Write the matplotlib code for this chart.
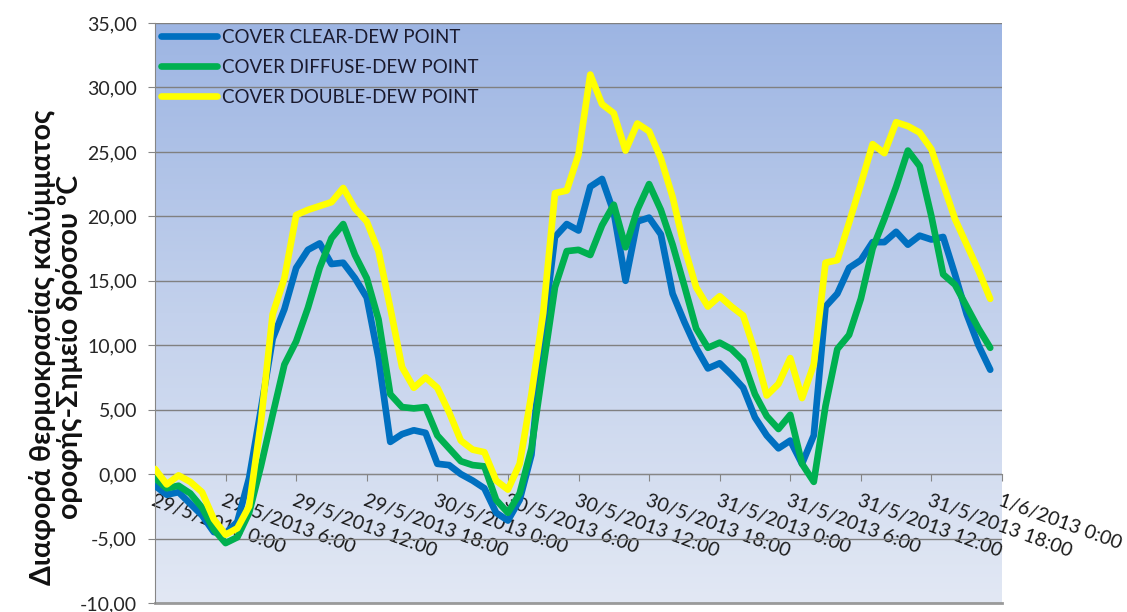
import numpy as np
import matplotlib
matplotlib.use("Agg")
import matplotlib.pyplot as plt
from matplotlib.colors import LinearSegmentedColormap
from matplotlib.ticker import FuncFormatter

plt.rcParams['font.family'] = ['Lato', 'DejaVu Sans']

# hourly readings, 29/5/2013 0:00 .. 31/5/2013 23:00
hours = list(range(72))

clear = [-0.9, -1.6, -1.4, -2.3, -3.2, -4.5, -4.6, -3.7, -0.3, 5.0,
         10.5, 12.8, 16.0, 17.4, 17.9, 16.3, 16.4, 15.2, 13.7, 9.0,
         2.5, 3.1, 3.4, 3.2, 0.8, 0.7, 0.0, -0.5, -1.1, -3.0,
         -3.6, -2.0, 1.5, 11.0, 18.4, 19.4, 18.9, 22.3, 22.9, 20.3,
         15.0, 19.6, 19.9, 18.6, 14.0, 11.8, 9.8, 8.2, 8.6, 7.7,
         6.7, 4.4, 3.0, 2.0, 2.6, 0.8, 3.0, 13.0, 14.0, 16.0,
         16.6, 18.0, 18.0, 18.8, 17.8, 18.5, 18.2, 18.4, 15.5, 12.4,
         10.0, 8.1]

diffuse = [-0.3, -1.1, -0.9, -1.5, -2.6, -4.3, -5.35, -4.9, -3.0, 0.6,
           4.6, 8.5, 10.3, 12.9, 16.0, 18.3, 19.4, 17.0, 15.2, 12.0,
           6.2, 5.2, 5.1, 5.2, 3.0, 2.0, 1.0, 0.7, 0.6, -2.0,
           -3.0, -1.5, 2.0, 8.3, 14.5, 17.3, 17.4, 17.0, 19.3, 20.9,
           17.6, 20.5, 22.5, 20.5, 17.8, 14.6, 11.3, 9.8, 10.2, 9.7,
           8.8, 6.2, 4.5, 3.5, 4.6, 0.8, -0.6, 5.3, 9.7, 10.8,
           13.6, 17.5, 19.8, 22.3, 25.1, 23.9, 20.0, 15.5, 14.7, 13.0,
           11.3, 9.8]

double = [0.4, -0.8, -0.1, -0.6, -1.4, -3.5, -4.7, -4.2, -2.5, 4.0,
          12.4, 15.2, 20.1, 20.5, 20.8, 21.1, 22.2, 20.6, 19.6, 17.3,
          12.9, 8.3, 6.7, 7.5, 6.7, 4.8, 2.6, 1.9, 1.7, -0.5,
          -1.2, 0.8, 6.2, 12.5, 21.8, 22.0, 24.8, 31.0, 28.7, 28.0,
          25.1, 27.2, 26.6, 24.5, 21.5, 17.6, 14.5, 13.0, 13.8, 13.0,
          12.3, 9.5, 6.1, 7.0, 9.0, 5.9, 8.5, 16.4, 16.6, 19.5,
          22.5, 25.6, 24.9, 27.3, 27.0, 26.5, 25.2, 22.5, 19.8, 17.8,
          15.8, 13.6]

series_names = ['COVER CLEAR-DEW POINT', 'COVER DIFFUSE-DEW POINT', 'COVER DOUBLE-DEW POINT']
series_colors = ['#0070C0', '#00B050', '#FFFF00']

tick_hours = [0, 6, 12, 18, 24, 30, 36, 42, 48, 54, 60, 66, 72]
tick_labels = ['29/5/2013 0:00', '29/5/2013 6:00', '29/5/2013 12:00', '29/5/2013 18:00',
               '30/5/2013 0:00', '30/5/2013 6:00', '30/5/2013 12:00', '30/5/2013 18:00',
               '31/5/2013 0:00', '31/5/2013 6:00', '31/5/2013 12:00', '31/5/2013 18:00',
               '1/6/2013 0:00']

y_ticks = [-10, -5, 0, 5, 10, 15, 20, 25, 30, 35]

W, H = 1127, 612
fig = plt.figure(figsize=(W / 100, H / 100), dpi=100)
ax = fig.add_axes([155 / W, 1 - 603 / H, (1002 - 155) / W, (603 - 23) / H])

# gradient background
cmap = LinearSegmentedColormap.from_list('bg', ['#E2E8F4', '#C3D1EC', '#9DB5E3'])
grad = np.linspace(0, 1, 256).reshape(-1, 1)
ax.imshow(grad, extent=[0, 1, 0, 1], transform=ax.transAxes, cmap=cmap,
          aspect='auto', origin='lower', zorder=0)
ax.patch.set_visible(False)

for vals, name, col in zip([clear, diffuse, double], series_names, series_colors):
    ax.plot(hours, vals, color=col, lw=4.8, label=name, solid_joinstyle='round',
            solid_capstyle='round', zorder=3)

ax.set_xlim(0, 72)
ax.set_ylim(-10, 35)
ax.set_yticks(y_ticks)
ax.yaxis.set_major_formatter(FuncFormatter(lambda v, p: f"{v:.2f}".replace('.', ',')))
ax.yaxis.grid(True, color='#808080', lw=1.0, zorder=1)
ax.set_axisbelow(True)

for s in ['top', 'right']:
    ax.spines[s].set_visible(False)
ax.spines['left'].set_color('#868686')
ax.spines['bottom'].set_position(('data', 0))
ax.spines['bottom'].set_color('#868686')

ax.tick_params(axis='y', direction='out', length=5, color='#868686', pad=8,
               labelsize=14, labelcolor='#262626')
ax.tick_params(axis='x', direction='out', length=5, color='#868686', pad=8,
               labelsize=14, labelcolor='#1a1a1a', labelrotation=-20)

ax.set_xticks(tick_hours)
ax.set_xticklabels(tick_labels)
for lbl in ax.get_xticklabels():
    lbl.set_rotation(-20)
    lbl.set_horizontalalignment('left')
    lbl.set_verticalalignment('top')
    lbl.set_rotation_mode('anchor')

# bottom boundary line
ax.axhline(-10, color='#9a9a9a', lw=2, zorder=1, clip_on=False)

leg = ax.legend(loc='upper left', frameon=False, fontsize=13.5, handlelength=3.0,
                handletextpad=0.25, labelspacing=0.7, borderaxespad=0.2,
                borderpad=0.1)
for t in leg.get_texts():
    t.set_color('#1a1a2e')

fig.text(56 / W, 1 - 347 / H, 'Διαφορά θερμοκρασίας καλύμματος\nοροφής-Σημείο δρόσου ºC',
         rotation=90, ha='center', va='center', fontsize=20.5, fontweight='bold',
         multialignment='center', color='#111111', linespacing=0.98)

fig.savefig('out.png', dpi=100)
